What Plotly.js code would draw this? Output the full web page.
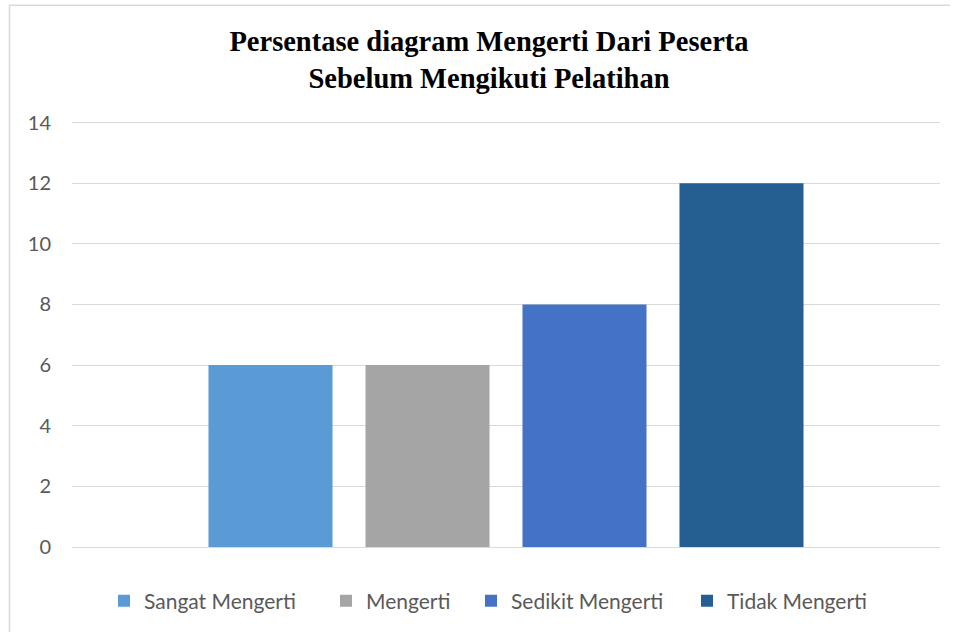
<!DOCTYPE html>
<html>
<head>
<meta charset="utf-8">
<script src="https://cdn.plot.ly/plotly-3.0.1.min.js"></script>
<style>html,body{margin:0;padding:0;background:#fff;}#chart{width:957px;height:632px;}</style>
</head>
<body>
<div id="chart"></div>
<script>
var category = ["Peserta"];
var seriesNames = ["Sangat Mengerti", "Mengerti", "Sedikit Mengerti", "Tidak Mengerti"];
var seriesValues = [6, 6, 8, 12];
var seriesColors = ["#5B9BD5", "#A5A5A5", "#4472C4", "#255E91"];
var yTicks = [0, 2, 4, 6, 8, 10, 12, 14];

var W = 957, H = 632;
var yMax = 14.05;
var unit = 425 / 14;
var L = 72, R = 17, B = 84;
var T = H - B - yMax * unit;
var pw = W - L - R, ph = H - T - B;
function px2x(px) { return (px - L) / pw; }
function px2y(py) { return (H - B - py) / ph; }

var legendIds = ["legend", "legend2", "legend3", "legend4"];
var legendSwatchCenters = [124, 346, 491, 707];

var traces = seriesNames.map(function (name, i) {
  return {
    type: "bar",
    name: name,
    x: category,
    y: [seriesValues[i]],
    marker: { color: seriesColors[i] },
    legend: legendIds[i],
    hoverinfo: "skip"
  };
});

var layout = {
  width: W, height: H,
  margin: { l: L, r: R, t: T, b: B, pad: 0 },
  paper_bgcolor: "#fff",
  plot_bgcolor: "#fff",
  barmode: "group",
  bargap: 0.2765,
  bargroupgap: 0.21,
  showlegend: true,
  title: {
    text: "Persentase diagram Mengerti Dari Peserta<br>Sebelum Mengikuti Pelatihan",
    font: { family: "Liberation Serif, serif", size: 28.5, color: "#000", weight: "bold" },
    x: 489 / W, xanchor: "center", xref: "container",
    y: 1 - 51 / H, yanchor: "middle", yref: "container"
  },
  xaxis: {
    type: "category",
    range: [-0.5, 0.5],
    showticklabels: false,
    showgrid: false,
    zeroline: false,
    showline: false,
    ticks: "",
    fixedrange: true
  },
  yaxis: {
    range: [0, yMax],
    tickvals: yTicks,
    ticktext: yTicks.map(String),
    showgrid: true,
    gridcolor: "#D9D9D9",
    gridwidth: 1,
    zeroline: true,
    zerolinecolor: "#D9D9D9",
    zerolinewidth: 1,
    showline: false,
    ticks: "",
    ticklabelstandoff: 20,
    tickfont: { family: "Lato, sans-serif", size: 20, color: "#595959" },
    fixedrange: true
  },
  shapes: [
    { type: "line", xref: "paper", yref: "paper",
      x0: px2x(9.5), x1: px2x(9.5), y0: px2y(5), y1: px2y(640),
      line: { color: "#D9D9D9", width: 1.5 } },
    { type: "line", xref: "paper", yref: "paper",
      x0: px2x(9), x1: px2x(950), y0: px2y(5.5), y1: px2y(5.5),
      line: { color: "#D9D9D9", width: 1.5 } }
  ]
};

legendIds.forEach(function (id, i) {
  layout[id] = {
    orientation: "h",
    x: px2x(legendSwatchCenters[i] - 20), xanchor: "left",
    y: px2y(601), yanchor: "middle",
    font: { family: "Lato, sans-serif", size: 21, color: "#595959" },
    bgcolor: "rgba(0,0,0,0)",
    itemclick: false, itemdoubleclick: false
  };
});

Plotly.newPlot("chart", traces, layout, { displayModeBar: false, staticPlot: true });
</script>
</body>
</html>
